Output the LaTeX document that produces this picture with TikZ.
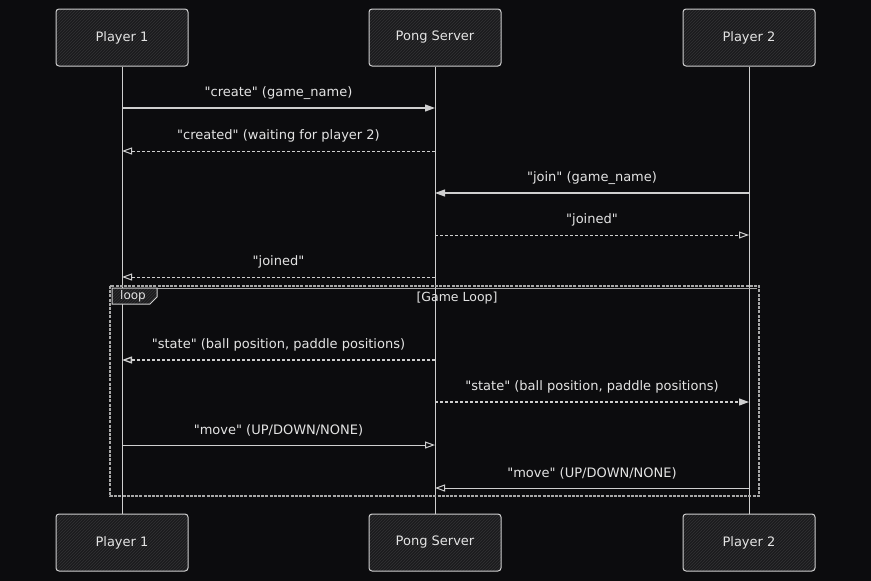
\documentclass[tikz,border=0pt]{standalone}
\usepackage{fontspec}
\setmainfont{DejaVu Sans}
\usetikzlibrary{arrows.meta,patterns}
\definecolor{bg}{HTML}{0C0C0E}
\definecolor{ln}{HTML}{CFCFCF}
\definecolor{fr}{HTML}{A8A8A8}
\definecolor{txt}{HTML}{E4E4E4}
\definecolor{boxfill}{HTML}{1C1C1E}
\definecolor{hatch}{HTML}{333335}
\newcommand{\qq}{\textquotedbl}
\tikzset{
  actor/.style={draw=ln, line width=1pt, rounded corners=3pt, minimum width=132pt, minimum height=57pt,
    preaction={fill=boxfill}, pattern=north east lines, pattern color=hatch,
    text=txt, font=\fontsize{13}{15}\selectfont},
  life/.style={draw=ln, line width=1pt},
  sync/.style={draw=ln, line width=1.2pt, -{Triangle[length=10pt,width=7pt]}},
  reply/.style={draw=ln, line width=1pt, dash pattern=on 3pt off 2pt, -{Triangle[open,length=10pt,width=7pt]}},
  replyf/.style={draw=ln, line width=1.2pt, dash pattern=on 3pt off 2pt, -{Triangle[length=10pt,width=7pt]}},
  syncopen/.style={draw=ln, line width=1pt, -{Triangle[open,length=10pt,width=7pt]}},
  lbl/.style={text=txt, font=\fontsize{13}{15}\selectfont, inner sep=0pt},
}
\begin{document}
\begin{tikzpicture}[x=1pt,y=-1pt]
\fill[bg] (0,0) rectangle (871,581);
\useasboundingbox (0,0) rectangle (871,581);

% actors
\node[actor] (p1t) at (122,37.5) {Player 1};
\node[actor] (pst) at (435,37.5) {Pong Server};
\node[actor] (p2t) at (749,37.5) {Player 2};
\node[actor] (p1b) at (122,542.5) {Player 1};
\node[actor] (psb) at (435,542.5) {Pong Server};
\node[actor] (p2b) at (749,542.5) {Player 2};

% lifelines
\draw[life] (p1t.south) -- (p1b.north);
\draw[life] (pst.south) -- (psb.north);
\draw[life] (p2t.south) -- (p2b.north);

% loop frame
\draw[fr, line width=1.2pt, dash pattern=on 3pt off 1.2pt] (110,286) rectangle (759,496);
\draw[fr, line width=0.6pt] (112,288.5) -- (757,288.5);
\path[draw=ln, line width=1pt, preaction={fill=boxfill}, pattern=north east lines, pattern color=hatch]
  (112,288) -- (157,288) -- (157,297) -- (150,304) -- (112,304) -- cycle;
\node[lbl, font=\fontsize{12}{14}\selectfont] (looplbl) at (133,296.5) {loop};
\node[lbl, font=\fontsize{12.5}{14}\selectfont] (gl) at (457,298) {[Game Loop]};

% message endpoints
\foreach \n/\y in {1/108,2/151,3/193,4/235,5/277,6/360,7/402,8/445,9/488}{
  \coordinate (a\n) at (122,\y);
  \coordinate (b\n) at (435,\y);
  \coordinate (c\n) at (749,\y);
}

\draw[sync] (a1) -- node[lbl, above=8pt] (m1) {\qq create\qq{} (game\_name)} (b1);
\draw[reply] (b2) -- node[lbl, above=8pt] (m2) {\qq created\qq{} (waiting for player 2)} (a2);
\draw[sync] (c3) -- node[lbl, above=8pt] (m3) {\qq join\qq{} (game\_name)} (b3);
\draw[reply] (b4) -- node[lbl, above=8pt] (m4) {\qq joined\qq} (c4);
\draw[reply] (b5) -- node[lbl, above=8pt] (m5) {\qq joined\qq} (a5);
\draw[reply, line width=1.3pt] (b6) -- node[lbl, above=8pt] (m6) {\qq state\qq{} (ball position, paddle positions)} (a6);
\draw[replyf] (b7) -- node[lbl, above=8pt] (m7) {\qq state\qq{} (ball position, paddle positions)} (c7);
\draw[syncopen] (a8) -- node[lbl, above=8pt] (m8) {\qq move\qq{} (UP/DOWN/NONE)} (b8);
\draw[syncopen] (c9) -- node[lbl, above=8pt] (m9) {\qq move\qq{} (UP/DOWN/NONE)} (b9);
\end{tikzpicture}
\end{document}
